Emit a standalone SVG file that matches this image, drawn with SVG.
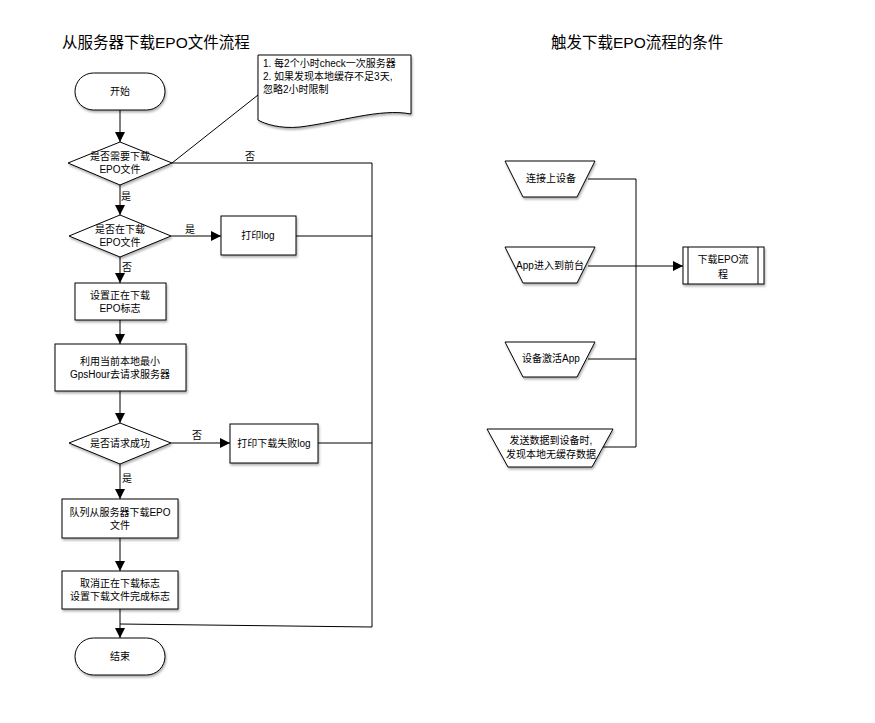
<svg xmlns="http://www.w3.org/2000/svg" width="875" height="723" viewBox="0 0 875 723">
<defs>
<filter id="sh" x="-10%" y="-10%" width="130%" height="140%">
<feDropShadow dx="1" dy="2" stdDeviation="1.2" flood-color="#000" flood-opacity="0.3"/>
</filter>
<marker id="ar" viewBox="0 0 10 10" refX="10" refY="5" markerWidth="10" markerHeight="10" markerUnits="userSpaceOnUse" orient="auto">
<path d="M0,0 L10,5 L0,10 Z" fill="#000"/>
</marker>
</defs>
<style>
.s{fill:#fff;stroke:#000;stroke-width:1;filter:url(#sh)}
.t{font-family:"Liberation Sans","Noto Sans CJK SC",sans-serif;font-size:10px;fill:#000;text-anchor:middle}
.l{font-family:"Liberation Sans","Noto Sans CJK SC",sans-serif;font-size:10px;fill:#000}
.h{font-family:"Liberation Sans","Noto Sans CJK SC",sans-serif;font-size:15.5px;fill:#000}
.c{fill:none;stroke:#000;stroke-width:1}
</style>
<rect width="875" height="723" fill="#fff"/>
<text class="h" x="62" y="48">从服务器下载EPO文件流程</text>
<text class="h" x="551" y="48">触发下载EPO流程的条件</text>

<g id="connectors">
<line class="c" x1="120" y1="110" x2="120" y2="142" marker-end="url(#ar)"/>
<line class="c" x1="172" y1="163" x2="258" y2="95"/>
<polyline class="c" points="172,163 372,163 372,627 120,624"/>
<line class="c" x1="120" y1="185" x2="120" y2="215" marker-end="url(#ar)"/>
<line class="c" x1="171" y1="236" x2="221" y2="236" marker-end="url(#ar)"/>
<line class="c" x1="296" y1="236" x2="372" y2="236"/>
<line class="c" x1="120" y1="257" x2="120" y2="283" marker-end="url(#ar)"/>
<line class="c" x1="120" y1="320" x2="120" y2="344" marker-end="url(#ar)"/>
<line class="c" x1="120" y1="391" x2="120" y2="423" marker-end="url(#ar)"/>
<line class="c" x1="171" y1="443" x2="230" y2="443" marker-end="url(#ar)"/>
<line class="c" x1="318" y1="443" x2="372" y2="443"/>
<line class="c" x1="120" y1="464" x2="120" y2="499" marker-end="url(#ar)"/>
<line class="c" x1="120" y1="538" x2="120" y2="571" marker-end="url(#ar)"/>
<line class="c" x1="120" y1="609" x2="120" y2="638" marker-end="url(#ar)"/>
<text class="l" x="245" y="160">否</text>
<text class="l" x="121" y="200">是</text>
<text class="l" x="185" y="233">是</text>
<text class="l" x="122" y="271">否</text>
<text class="l" x="192" y="439">否</text>
<text class="l" x="122" y="482">是</text>
<polyline class="c" points="588,179 636,179 636,447 597,447"/>
<line class="c" x1="588" y1="359" x2="636" y2="359"/>
<line class="c" x1="588" y1="266" x2="683" y2="266" marker-end="url(#ar)"/>
</g>

<g id="start">
<rect class="s" x="75" y="73" width="90" height="37" rx="18.5"/>
<text class="t" x="120" y="95">开始</text>
</g>
<g id="note">
<path class="s" d="M258,55 H411 V114 C380,108 340,122 300,127 C280,129 265,124 258,120 Z"/>
<text class="l" x="263" y="67">1. 每2个小时check一次服务器</text>
<text class="l" x="263" y="80">2. 如果发现本地缓存不足3天,</text>
<text class="l" x="263" y="93">忽略2小时限制</text>
</g>
<g id="d1">
<polygon class="s" points="120,142 172,163 120,185 68,163"/>
<text class="t" x="120" y="160">是否需要下载</text>
<text class="t" x="120" y="173">EPO文件</text>
</g>
<g id="d2">
<polygon class="s" points="120,215 171,236 120,257 69,236"/>
<text class="t" x="120" y="233">是否在下载</text>
<text class="t" x="120" y="246">EPO文件</text>
</g>
<g id="log1">
<rect class="s" x="221" y="216" width="75" height="39"/>
<text class="t" x="258" y="239">打印log</text>
</g>
<g id="setflag">
<rect class="s" x="75" y="283" width="91" height="37"/>
<text class="t" x="120" y="299">设置正在下载</text>
<text class="t" x="120" y="312">EPO标志</text>
</g>
<g id="request">
<rect class="s" x="55" y="344" width="131" height="47"/>
<text class="t" x="120" y="365">利用当前本地最小</text>
<text class="t" x="120" y="378">GpsHour去请求服务器</text>
</g>
<g id="d3">
<polygon class="s" points="120,423 171,443 120,464 69,443"/>
<text class="t" x="120" y="447">是否请求成功</text>
</g>
<g id="log2">
<rect class="s" x="230" y="424" width="88" height="39"/>
<text class="t" x="274" y="447">打印下载失败log</text>
</g>
<g id="queue">
<rect class="s" x="62" y="499" width="116" height="39"/>
<text class="t" x="120" y="516">队列从服务器下载EPO</text>
<text class="t" x="120" y="529">文件</text>
</g>
<g id="cancel">
<rect class="s" x="62" y="571" width="116" height="38"/>
<text class="t" x="120" y="587">取消正在下载标志</text>
<text class="t" x="120" y="600">设置下载文件完成标志</text>
</g>
<g id="end">
<rect class="s" x="75" y="638" width="90" height="37" rx="18.5"/>
<text class="t" x="120" y="660">结束</text>
</g>

<g id="t1">
<polygon class="s" points="505,161 595,161 577,197 523,197"/>
<text class="t" x="551" y="182">连接上设备</text>
</g>
<g id="t2">
<polygon class="s" points="505,247 595,247 577,283 523,283"/>
<text class="t" x="550" y="269">App进入到前台</text>
</g>
<g id="t3">
<polygon class="s" points="505,342 595,342 577,377 523,377"/>
<text class="t" x="551" y="362">设备激活App</text>
</g>
<g id="t4">
<polygon class="s" points="487,429 613,429 592,467 508,467"/>
<text class="t" x="551" y="444">发送数据到设备时,</text>
<text class="t" x="551" y="458">发现本地无缓存数据</text>
</g>
<g id="proc">
<rect class="s" x="683" y="247" width="81" height="37"/>
<line class="c" x1="688" y1="247" x2="688" y2="284"/>
<line class="c" x1="758" y1="247" x2="758" y2="284"/>
<text class="t" x="723" y="263">下载EPO流</text>
<text class="t" x="723" y="278">程</text>
</g>
</svg>
